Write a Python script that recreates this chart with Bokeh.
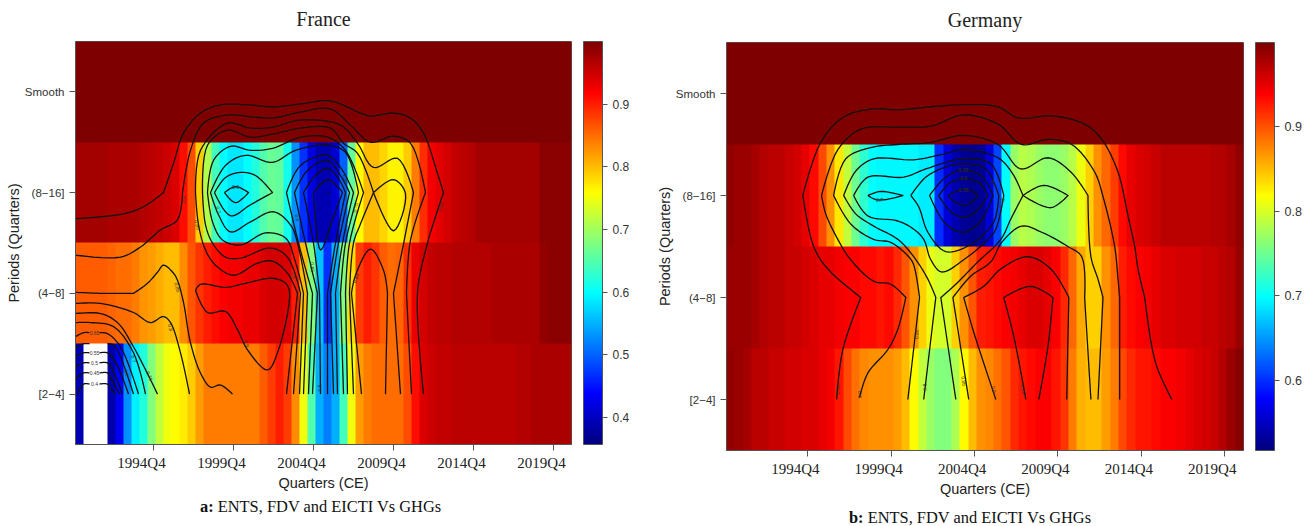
import numpy as np
from bokeh.core.properties import value
from bokeh.embed import file_html
from bokeh.layouts import column, row
from bokeh.models import BasicTickFormatter, ColorBar, Div, FixedTicker, LinearAxis, LinearColorMapper, Title
from bokeh.plotting import figure
from bokeh.resources import INLINE

nan = float("nan")
TICK_QUARTERS = [19, 39, 59, 79, 99, 119]
TICK_LABELS = ["1994Q4", "1999Q4", "2004Q4", "2009Q4", "2014Q4", "2019Q4"]
ROW_LABELS = ["[2\u22124]", "(4\u22128]", "(8\u221216]", "Smooth"]

# half-year coherence values, oldest first, one list per period band
FR_SMOOTH = [0.999] * 62
FR_8_16 = [.975,.975,.975,.975,.97,.97,.97,.97,.965,.96, .955,.95,.94,.91,.87,.79,.71,.64,.60,.585,
           .585,.60,.62,.65,.665,.66,.61,.53,.47,.42, .39,.39,.41,.50,.66,.76,.80,.80,.785,.765,
           .765,.79,.84,.89,.925,.935,.945,.955,.96,.965, .975,.975,.975,.975,.975,.975,.975,.975,.99,.99,.99,.99]
FR_4_8 = [.86,.86,.86,.86,.855,.85,.85,.84,.825,.82, .81,.80,.80,.83,.865,.885,.90,.91,.92,.925,
          .925,.93,.93,.94,.945,.945,.94,.90,.80,.68, .56,.47,.55,.68,.78,.88,.90,.885,.86,.85,
          .855,.89,.93,.945,.955,.96,.96,.965,.965,.965, .965,.965,.97,.97,.97,.97,.97,.97,.985,.99,.99,.99]
FR_2_4 = [.39,nan,nan,nan,.385,.43,.53,.59,.62,.68, .72,.75,.76,.77,.79,.82,.84,.84,.84,.84,
          .84,.84,.84,.86,.88,.90,.88,.83,.75,.65, .55,.52,.55,.64,.75,.82,.84,.85,.85,.85,
          .85,.87,.91,.94,.95,.955,.955,.96,.96,.96, .96,.96,.96,.96,.96,.965,.965,.97,.97,.97,.97,.97]

DE_SMOOTH = [0.999] * 62
DE_8_16 = [.99,.985,.985,.98,.975,.97,.97,.965,.96,.95, .935,.905,.87,.83,.79,.75,.72,.70,.695,.695,
           .695,.695,.695,.69,.69,.60,.56,.54,.53,.525, .53,.56,.61,.70,.77,.785,.78,.77,.765,.765,
           .77,.785,.81,.84,.87,.89,.91,.935,.95,.955, .96,.965,.97,.97,.97,.97,.97,.97,.975,.975,.98,.99]
DE_4_8 = [.985,.985,.985,.98,.975,.97,.97,.965,.965,.96, .955,.95,.95,.945,.94,.94,.935,.935,.93,.935,
          .92,.90,.87,.84,.81,.80,.80,.84,.87,.90, .925,.93,.935,.94,.945,.95,.955,.955,.95,.94,
          .92,.89,.86,.84,.84,.87,.89,.925,.935,.94, .945,.95,.955,.955,.96,.96,.96,.965,.965,.97,.975,.985]
DE_2_4 = [.99,.985,.98,.97,.97,.965,.965,.96,.96,.955, .955,.95,.945,.93,.905,.885,.875,.87,.87,.87,
          .865,.85,.82,.79,.77,.76,.76,.78,.82,.85, .87,.875,.885,.90,.92,.93,.935,.94,.94,.93,
          .915,.88,.855,.85,.85,.865,.88,.905,.92,.93, .93,.935,.94,.94,.945,.95,.955,.96,.965,.975,.985,.995]

# contour lines: (quarter index since 1990Q1, band position)
FR_CONTOURS = [
 ([-.5,11.5,16.5,21.5,24,26.5,30.75,35.75,43.25,48.75,55.75,63.25,70.75,73.25,79,83.25,86.5,90,91.5,89,87.5,85,86.5],
  [1.74,1.79,1.86,2.0,2.29,2.59,2.79,2.87,2.87,2.85,2.88,2.91,2.79,2.76,2.79,2.74,2.59,2.19,2.0,1.70,1.50,1.01,0]),
 ([-.5,10.75,15.75,20.75,25,26.25,28.25,31.5,37.5,44,48.75,55.75,63.25,68.25,73.25,79,83.25,87,83.25,82.25,83.5],
  [1.38,1.36,1.46,1.63,1.73,2.0,2.42,2.69,2.77,2.75,2.74,2.80,2.83,2.67,2.50,2.56,2.49,2.0,1.53,1.0,0]),
 ([52.25,55,52.5,48.75,45,39,34.5,32,30.25,29.5,30.75,37.5,43.25,48.75,55.75,65.75,70,74,80,84,81.5,79,80.75],
  [0,1,1.2,1.32,1.3,1.18,1.28,1.43,1.68,2,2.42,2.69,2.64,2.65,2.72,2.67,2.49,2.25,2.34,2,1.49,1,0]),
 ([54,55.75,52.5,48.25,40.75,37,33.75,32,31.25,32.5,37.5,43.25,48.75,55.75,63.25,66.5,70,74,79,82,79,74,70.75,69,68,69],
  [0,1,1.36,1.45,1.35,1.36,1.5,1.68,2,2.47,2.62,2.55,2.58,2.64,2.64,2.49,2.39,2,1.62,1.99,2.13,2,1.69,1.5,1,0]),
 ([55.5,56.5,54.5,52,47,40.75,36.25,33.75,32.5,34,38.25,43.25,48.75,55.75,62.5,67,71.5,68,67,67.5],
  [0,1,1.31,1.55,1.6,1.48,1.53,1.71,2,2.32,2.46,2.42,2.44,2.55,2.55,2.42,2,1.5,1,0]),
 ([56.5,57.5,55,53.25,49,43.25,38.25,35.25,33.25,37,42,48.75,54.5,62.5,67,70.25,67,65.75,66.5],
  [0,1,1.5,1.68,1.81,1.71,1.61,1.78,2,2.27,2.37,2.30,2.42,2.47,2.40,2,1.5,1,0]),
 ([34.25,37,40.75,44.5,48.75,43.25,38.25,34.25], [2,2.15,2.2,2.17,2,1.88,1.77,2]),
 ([36.75,39.5,42.75,39.5,36.75], [2,2.06,2,1.9,2]),
 ([57.75,58.75,55.25,52.25,55.75,62.5,66.25,69,66.25,64.5,65], [0,1,1.5,2,2.27,2.37,2.22,2,1.5,1,0]),
 ([58.75,60,57,54.25,57.5,62.5,65.75,68,65.25,63.25,64], [0,1,1.5,2,2.22,2.32,2.17,2,1.5,1,0]),
 ([60.75,60.5,59,56.5,59.5,62.5,65.25,67,64.5,62.5,62.5], [0,1,1.5,2,2.17,2.24,2.14,2,1.5,1,0]),
 ([59,62.5,65.25,66.25,64,60.75,59], [2,2.13,2.05,2,1.76,1.43,2]),
 ([62.5,63], [2,2]),
 ([71,68.5,69.5,73.25,76.5,77.5,77], [0,1,1.18,1.44,1.23,1,0]),
 ([29.5,30.75,37,42,48.75,52,53,50.25,47.5,42.5,40,37,32.5,29.5],
  [1.03,1.09,1.06,1.10,1.15,1.10,1.01,.44,.24,.44,.64,.82,.81,1.03]),
 ([-.5,5.75,14,17.5,20,21.5,24,25,26.5,28.25,30.75,33.25,35.75,38.75],
  [1.01,1,1,1.1,1.21,1.28,1.2,1.13,.91,.51,.21,.07,.09,0]),
 ([-.5,5.75,14,18.25,21.5,23.25,25.75,28], [.9,.9,.81,.71,.77,.71,.41,0]),
 ([-.5,5.75,10,14,20], [.8,.8,.71,.47,0]),
 ([-.5,3.25,9,14,17], [.71,.71,.67,.41,0]),
 ([-.5,1.5,3], [.57,.61,.61]),
 ([5.5,7.5,10.75,15.25], [.61,.6,.47,0]),
 ([-.5,1.5,3], [.46,.5,.5]),
 ([7.5,9,10.75,14], [.5,.49,.37,0]),
 ([-.5,1.5,3], [.37,.41,.41]),
 ([5.5,7.5,9.5,12.75], [.41,.41,.32,0]),
 ([-.5,1.5,3], [.27,.31,.31]),
 ([5.5,7.5,9,11.25], [.31,.31,.22,0]),
 ([-.5,1.5,3], [.15,.21,.21]),
 ([5.5,7.5,8.75,10.5], [.21,.21,.13,0]),
 ([0,1.5,3], [0,.1,.1]),
 ([5.5,7.5,8.25,9.5], [.1,.1,.06,0]),
]
DE_CONTOURS = [
 ([25.9,27.4,31.7,23.8,20.4,17.8,22.1,27.6,34.8,40.6,48.5,56.4,64.6,69.4,77.5,85.4,89.5,93.4,95.8,97.4,98.2,99.8,101.5,103,106.3],
  [0,.49,1,1.28,1.5,2,2.52,2.77,2.85,2.84,2.87,2.89,2.87,2.76,2.78,2.70,2.55,2.23,1.8,1.5,1.28,1,.52,.29,0]),
 ([31.4,33.4,38.2,40.6,42.5,38.9,34.8,29.3,26.2,23.3,22.3,26.2,31.7,40.6,48.5,56.4,64.6,70.3,76.6,82.3,87.8,89.8,92.6,93.4,93.8,93.8],
  [.02,.26,.49,.69,1,1.13,1.16,1.37,1.57,1.82,2,2.45,2.65,2.67,2.68,2.79,2.7,2.5,2.55,2.5,2.23,1.99,1.5,1.18,1,0]),
 ([43,45.8,44.4,43.2,38.9,34.8,29.3,25.2,28.1,34.1,40.6,48.5,56.4,64.6,70.1,76.6,82.1,86.2,86.9,88.6,89.8,88.6],
  [0,1,1.32,1.4,1.54,1.57,1.72,2,2.36,2.47,2.5,2.52,2.59,2.5,2.26,2.37,2.23,2,1.4,1.18,1,0]),
 ([46.8,49.7,47.8,44.4,40.6,34.8,30.5,27.6,30.5,34.8,44.4,50.9,56.4,64.6,68.2,70.6,75.6,81.4,77.3,70.6,67.7,65.3,59.8,54.5,50.9,54.5],
  [0,1,1.18,1.4,1.57,1.7,1.82,2,2.24,2.36,2.35,2.4,2.45,2.37,2.21,2,2.1,2,1.88,2,1.77,1.57,1.35,1.13,1,0]),
 ([30,33.4,42,47.3,56.4,62.9,66,64.1,62.2,56.4,51.1,48.5,46.8,44.4,40.6,33.4,30],
  [2,2.18,2.18,2.26,2.36,2.31,2,1.67,1.57,1.37,1.25,1.37,1.57,1.67,1.75,1.8,2]),
 ([57.6,53.8,58.1,62.9,65.5,70.3,75.1,81.4,84.7,85.4,86.9], [0,1,1.21,1.35,1.54,1.7,1.64,1.5,1.4,1,0]),
 ([64.1,58.8,56.4,61.2,65.3,71.8,77.3,81.6,81.1], [0,.66,1,1.11,1.28,1.4,1.28,1,0]),
 ([71.3,68.4,66,72.5,77.8,76.6,74.4], [0,.62,1,1.11,1,.52,0]),
 ([43.7,47.3,52.1,56.4,61.7,64.8,63.6,58.1,52.1,47.8,45.6,43.7], [2,2.18,2.28,2.31,2.26,2,1.74,1.52,1.45,1.64,1.89,2]),
 ([48.2,52.1,56.4,61,63.4,60.5,56.4,52.1,48.2], [2,2.18,2.25,2.18,2,1.75,1.64,1.72,2]),
 ([50.4,53.3,56.4,60,62.2,59.3,56.4,53.3,50.4], [2,2.13,2.16,2.13,2,1.84,1.79,1.84,2]),
 ([52.6,54.5,56.4,58.6,59.8,58.1,56.4,54.5,52.6], [2,2.04,2.06,2.04,2,1.93,1.91,1.93,2]),
 ([33.4,36.5,41.8,37.7,35.3,33.4], [2,2.04,2,1.96,1.96,2]),
]
# contour level labels: quarter, band position, text, angle in radians
FR_LABELS = [(26.5,1.93,"0.9",1.5),(30,1.68,"0.85",-1.3),(35.25,1.83,"0.7",-1.3),(39.5,2.06,"0.6",0),
 (55,1.75,"0.6",-1.3),(54,1.18,"0.8",-1.4),(58.75,1.26,"0.65",-1.5),(69.5,1.15,"0.85",1.2),
 (90.75,1.86,"0.95",1.3),(69.5,1.85,"0.75",1.4),(67,2.13,"0.65",-1.3),(25,1.06,"0.85",-1.3),
 (23.25,.66,"0.8",-1.3),(18,.18,"0.75",-1.2),(14,.35,"0.7",-1.2),(12.25,.21,"0.6",-1.2),
 (60.5,.06,"0.6",1.57),(42.25,.5,"0.9",-1.2),(4.25,.61,"0.65",0),
 (4.25,.41,"0.55",0),(4.25,.31,"0.5",0),(4.25,.21,"0.45",0),(4.25,.1,"0.4",0)]
DE_LABELS = [(36.2,1.96,"0.7",0),(56.4,2.25,"0.65",0),(56.4,2.17,"0.6",0),(56.4,2.05,"0.55",0),
 (63.4,2.12,"0.7",-1.2),(65.5,1.93,"0.75",1.3),(26.2,.1,"0.95",1.57),(31.4,.05,"0.9",1.57),
 (45.1,.64,"0.85",1.57),(47,.12,"0.8",1.57),(56.4,.18,"0.85",-1.4),(63.6,.1,"0.9",-1.4),(70.6,.1,"0.95",-1.4)]

STOPS = ["#00007F","#0000FF","#007FFF","#00FFFF","#7FFF7F","#FFFF00","#FF7F00","#FF0000","#7F0000"]
def jet(n=256):
    rgb = np.array([[int(s[i:i+2],16) for i in (1,3,5)] for s in STOPS], float)
    out = []
    for v in np.linspace(0, 8, n):
        k = min(int(v), 7); f = v-k
        c = rgb[k]*(1-f)+rgb[k+1]*f
        out.append("#%02x%02x%02x" % tuple(int(round(x)) for x in c))
    return out
PAL = jet()
SANS = "Liberation Sans"; SERIF = "Liberation Serif"; AX = "#555555"

def curve(xs, ys):
    """Draws the read vertices as a rounded path (Catmull-Rom), keeping the corners on band centres."""
    P = np.column_stack([np.array(xs, float), np.array(ys, float)*25.0])
    n = len(P)
    if n < 3:
        return list(xs), list(ys)
    out = [P[0]]
    for i in range(n-1):
        a = P[i-1] if i > 0 and ys[i] not in (1, 2) else P[i]
        d = P[i+2] if i+2 < n and ys[i+1] not in (1, 2) else P[i+1]
        b, c = P[i], P[i+1]
        t1 = np.linalg.norm(b-a)**.5; t2 = t1+np.linalg.norm(c-b)**.5+1e-9; t3 = t2+np.linalg.norm(d-c)**.5
        for s in np.linspace(0, 1, 9)[1:]:
            t = t1+s*(t2-t1)
            A1 = b if t1 < 1e-9 else a+(b-a)*t/t1
            A2 = b+(c-b)*(t-t1)/(t2-t1)
            A3 = c if t3-t2 < 1e-9 else c+(d-c)*(t-t2)/(t3-t2)
            B1 = A2 if t2 < 1e-9 else A1+(A2-A1)*t/t2
            B2 = A3 if t3-t1 < 1e-9 else A2+(A3-A2)*(t-t1)/(t3-t1)
            out.append(B1+(B2-B1)*(t-t1)/(t2-t1))
    out = np.array(out)
    return out[:,0].tolist(), (out[:,1]/25.0).tolist()

def panel(title, rows, low, high, cticks, contours, labels, frame, borders, cbfont):
    fw, fh = frame
    left, top, right, bottom = borders
    p = figure(frame_width=fw, frame_height=fh, x_range=(-.5,123.5), y_range=(-.5,3.5),
               toolbar_location=None, output_backend="svg", title=title,
               min_border_left=left, min_border_top=top, min_border_right=right, min_border_bottom=bottom)
    p.title.text_font = SERIF; p.title.text_font_size = "20px"; p.title.text_font_style = "normal"
    p.title.align = "center"; p.title.text_color = "#222222"; p.title.vertical_align = "middle"
    p.title.standoff = 8
    p.add_layout(Title(text=" ", text_font_size="4px", standoff=0), "above")
    mapper = LinearColorMapper(palette=PAL, low=low, high=high, nan_color="white")
    p.image(image=[np.array(rows)], x=-.5, y=-.5, dw=124, dh=4, color_mapper=mapper)
    for xs, ys in contours:
        cx, cy = curve(xs, ys)
        p.line(cx, cy, line_color="#111111", line_width=1.3, line_join="round")
    p.text([l[0] for l in labels], [l[1] for l in labels], text=[l[2] for l in labels],
           angle=[l[3] for l in labels], text_font=value(SANS), text_font_size=value("5px"),
           text_align="center", text_baseline="middle", text_color="#333333")
    p.grid.visible = False
    p.outline_line_color = AX
    # tick marks sit on the quarters; their labels are printed three quarters to the left, as in the reference
    p.xaxis.ticker = FixedTicker(ticks=TICK_QUARTERS)
    p.xaxis.major_label_text_font_size = "1px"
    p.xaxis.major_label_overrides = {t: " " for t in TICK_QUARTERS}
    p.xaxis.major_label_standoff = 0
    shifted = [t-3 for t in TICK_QUARTERS]
    lab = LinearAxis(ticker=FixedTicker(ticks=shifted), major_label_overrides=dict(zip(shifted, TICK_LABELS)),
                     axis_line_color=None, major_tick_line_color=None, minor_tick_line_color=None,
                     major_tick_in=0, major_tick_out=0, major_label_standoff=0,
                     major_label_text_font=SERIF, major_label_text_font_size="15px",
                     major_label_text_color="#222222",
                     axis_label="Quarters (CE)", axis_label_text_font=SANS, axis_label_text_font_size="14.5px",
                     axis_label_text_font_style="normal", axis_label_text_color="#222222", axis_label_standoff=1)
    p.add_layout(lab, "below")
    p.yaxis.ticker = FixedTicker(ticks=[0,1,2,3])
    p.yaxis.major_label_overrides = dict(zip([0,1,2,3], ROW_LABELS))
    p.yaxis.major_label_text_font = SANS; p.yaxis.major_label_text_font_size = "11.5px"
    p.yaxis.major_label_text_color = "#333333"; p.yaxis.major_label_standoff = 5
    p.yaxis.axis_label = "Periods (Quarters)"; p.yaxis.axis_label_text_font = SANS
    p.yaxis.axis_label_text_font_size = "14.5px"; p.yaxis.axis_label_text_font_style = "normal"
    p.yaxis.axis_label_text_color = "#222222"; p.yaxis.axis_label_standoff = 0
    for ax in (p.xaxis[0], p.yaxis[0]):
        ax.major_tick_in = 0; ax.major_tick_out = 6; ax.minor_tick_line_color = None
        ax.axis_line_color = AX; ax.major_tick_line_color = AX
    cb = ColorBar(color_mapper=mapper, ticker=FixedTicker(ticks=cticks), width=19, height=fh,
                  margin=0, padding=0, major_tick_in=0, major_tick_out=5, major_tick_line_color=AX,
                  bar_line_color=AX, label_standoff=5, major_label_text_font=SANS,
                  major_label_text_font_size=cbfont, major_label_text_color="#333333",
                  formatter=BasicTickFormatter(), location=(12, 0))
    p.add_layout(cb, "right")
    return p

def caption(bold, rest, top, left):
    return Div(text="<b>%s</b> %s" % (bold, rest), width=420, height=20, margin=(top, 0, 0, left),
               styles={"font-family": SERIF, "font-size": "16.4px", "color": "#111111", "white-space": "nowrap"})

fr = panel("France", [FR_2_4, FR_4_8, FR_8_16, FR_SMOOTH], .357, 1.0, [.4,.5,.6,.7,.8,.9],
           FR_CONTOURS, FR_LABELS, (496,403), (75,41,79,47), "12px")
de = panel("Germany", [DE_2_4, DE_4_8, DE_8_16, DE_SMOOTH], .517, 1.0, [.6,.7,.8,.9],
           DE_CONTOURS, DE_LABELS, (517,408), (76,42,63,47), "12.5px")
col_fr = column(fr, caption("a:", "ENTS, FDV and EICTI Vs GHGs", 2, 200), spacing=0)
col_de = column(de, caption("b:", "ENTS, FDV and EICTI Vs GHGs", 7, 199), spacing=0)
open("out.html", "w").write(file_html(row(col_fr, col_de, spacing=0), INLINE))
